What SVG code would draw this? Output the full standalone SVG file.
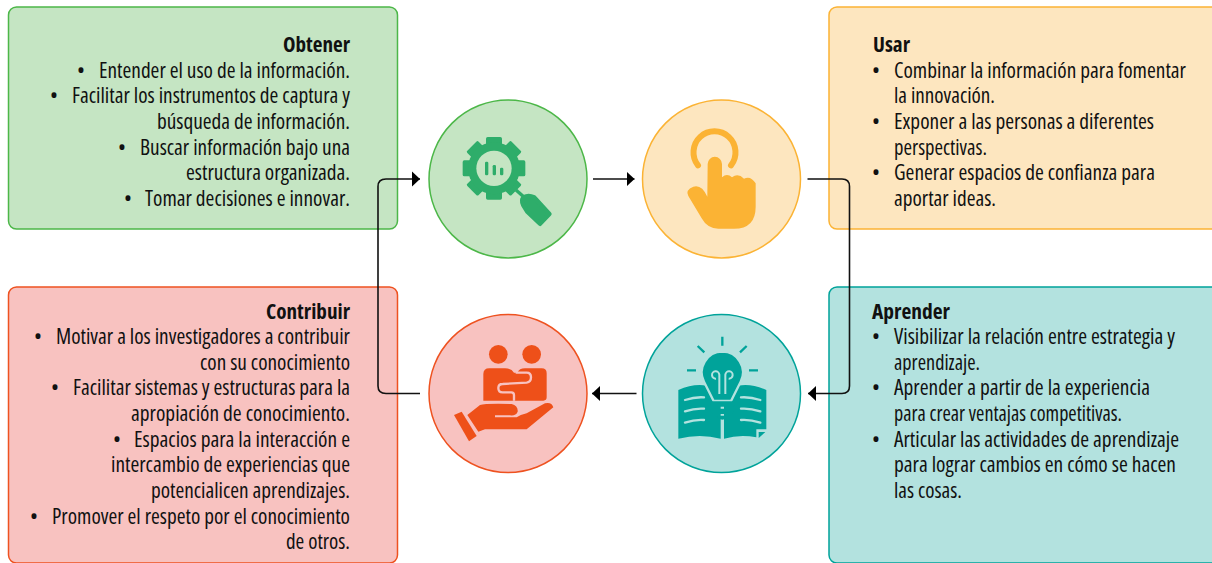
<svg xmlns="http://www.w3.org/2000/svg" width="1212" height="563" viewBox="0 0 1212 563">
<style>
text{font-family:"Open Sans","Noto Sans","Liberation Sans",sans-serif;font-size:21px;font-stretch:75%;fill:#111;}
.b{font-weight:700}
.box{stroke-width:1.5}
.g{fill:#C5E5C3;stroke:#4CB748}
.o{fill:#FDE6BF;stroke:#FBB334}
.r{fill:#F8C2C0;stroke:#EE5220}
.t{fill:#B3E2DF;stroke:#00A39A}
.conn{fill:none;stroke:#111;stroke-width:1.6}
</style>
<defs>
<marker id="arr" markerUnits="userSpaceOnUse" markerWidth="9" markerHeight="16" refX="8" refY="8" orient="auto"><path d="M0,0.5L8,8L0,15.5Z" fill="#000"/></marker>
</defs>
<rect width="1212" height="563" fill="#fff"/>
<g id="obtener">
<rect class="box g" x="8.5" y="7" width="389" height="222" rx="8"/>
<text class="b" x="283" y="52" textLength="67" lengthAdjust="spacingAndGlyphs">Obtener</text>
<text x="77" y="78">•</text><text x="99" y="78" textLength="251" lengthAdjust="spacingAndGlyphs">Entender el uso de la información.</text>
<text x="50" y="103">•</text><text x="72" y="103" textLength="278" lengthAdjust="spacingAndGlyphs">Facilitar los instrumentos de captura y</text>
<text x="157" y="129" textLength="193" lengthAdjust="spacingAndGlyphs">búsqueda de información.</text>
<text x="118" y="155">•</text><text x="140" y="155" textLength="210" lengthAdjust="spacingAndGlyphs">Buscar información bajo una</text>
<text x="186" y="180" textLength="164" lengthAdjust="spacingAndGlyphs">estructura organizada.</text>
<text x="124" y="206">•</text><text x="145" y="206" textLength="205" lengthAdjust="spacingAndGlyphs">Tomar decisiones e innovar.</text>
</g>
<g id="usar">
<rect class="box o" x="829" y="7" width="400" height="222" rx="8"/>
<text class="b" x="873" y="52" textLength="37" lengthAdjust="spacingAndGlyphs">Usar</text>
<text x="872" y="78">•</text><text x="894" y="78" textLength="292" lengthAdjust="spacingAndGlyphs">Combinar la información para fomentar</text>
<text x="894" y="103" textLength="101" lengthAdjust="spacingAndGlyphs">la innovación.</text>
<text x="872" y="129">•</text><text x="894" y="129" textLength="260" lengthAdjust="spacingAndGlyphs">Exponer a las personas a diferentes</text>
<text x="894" y="155" textLength="93" lengthAdjust="spacingAndGlyphs">perspectivas.</text>
<text x="872" y="180">•</text><text x="894" y="180" textLength="261" lengthAdjust="spacingAndGlyphs">Generar espacios de confianza para</text>
<text x="894" y="206" textLength="102" lengthAdjust="spacingAndGlyphs">aportar ideas.</text>
</g>
<g id="contribuir">
<rect class="box r" x="8.5" y="287" width="389" height="276" rx="8"/>
<text class="b" x="266" y="319" textLength="84" lengthAdjust="spacingAndGlyphs">Contribuir</text>
<text x="34" y="344">•</text><text x="56" y="344" textLength="294" lengthAdjust="spacingAndGlyphs">Motivar a los investigadores a contribuir</text>
<text x="200" y="370" textLength="150" lengthAdjust="spacingAndGlyphs">con su conocimiento</text>
<text x="51" y="395">•</text><text x="73" y="395" textLength="277" lengthAdjust="spacingAndGlyphs">Facilitar sistemas y estructuras para la</text>
<text x="131" y="421" textLength="219" lengthAdjust="spacingAndGlyphs">apropiación de conocimiento.</text>
<text x="113" y="447">•</text><text x="134" y="447" textLength="216" lengthAdjust="spacingAndGlyphs">Espacios para la interacción e</text>
<text x="111" y="472" textLength="239" lengthAdjust="spacingAndGlyphs">intercambio de experiencias que</text>
<text x="151" y="498" textLength="199" lengthAdjust="spacingAndGlyphs">potencialicen aprendizajes.</text>
<text x="30" y="524">•</text><text x="52" y="524" textLength="298" lengthAdjust="spacingAndGlyphs">Promover el respeto por el conocimiento</text>
<text x="286" y="549" textLength="64" lengthAdjust="spacingAndGlyphs">de otros.</text>
</g>
<g id="aprender">
<rect class="box t" x="829" y="287" width="400" height="276" rx="8"/>
<text class="b" x="872" y="319" textLength="78" lengthAdjust="spacingAndGlyphs">Aprender</text>
<text x="872" y="344">•</text><text x="894" y="344" textLength="281" lengthAdjust="spacingAndGlyphs">Visibilizar la relación entre estrategia y</text>
<text x="894" y="370" textLength="86" lengthAdjust="spacingAndGlyphs">aprendizaje.</text>
<text x="872" y="395">•</text><text x="894" y="395" textLength="256" lengthAdjust="spacingAndGlyphs">Aprender a partir de la experiencia</text>
<text x="894" y="421" textLength="228" lengthAdjust="spacingAndGlyphs">para crear ventajas competitivas.</text>
<text x="872" y="447">•</text><text x="894" y="447" textLength="285" lengthAdjust="spacingAndGlyphs">Articular las actividades de aprendizaje</text>
<text x="894" y="472" textLength="282" lengthAdjust="spacingAndGlyphs">para lograr cambios en cómo se hacen</text>
<text x="894" y="498" textLength="68" lengthAdjust="spacingAndGlyphs">las cosas.</text>
</g>
<g id="icon-obtener">
<circle class="g" cx="508" cy="179" r="79" stroke-width="1.5"/>
<g transform="translate(420 90) scale(.33333)" fill="#2EAD6A">
<g transform="translate(222 235)">
<rect x="-24" y="-94" width="48" height="188" rx="5"/>
<rect x="-24" y="-94" width="48" height="188" rx="5" transform="rotate(45)"/>
<rect x="-24" y="-94" width="48" height="188" rx="5" transform="rotate(90)"/>
<rect x="-24" y="-94" width="48" height="188" rx="5" transform="rotate(135)"/>
<circle r="78"/>
<circle r="53" fill="#C5E5C3"/>
</g>
<rect x="195" y="215" width="10" height="41" rx="4"/><rect x="218" y="225" width="10" height="31" rx="4"/><rect x="240" y="233" width="10" height="23" rx="4"/>
<path d="M288,300L322,330" stroke="#2EAD6A" stroke-width="10" fill="none"/>
<path d="M310,345Q303,330 312,322Q325,314 342,322L388,372L360,401L322,365Z" stroke="#2EAD6A" stroke-width="14" stroke-linejoin="round"/>
</g>
</g>
<g id="icon-usar">
<circle class="o" cx="721.5" cy="179" r="79" stroke-width="1.5"/>
<g transform="translate(590 90) scale(.33333)">
<path d="M324,226A63,63 0 1 1 423,226" fill="none" stroke="#FBB334" stroke-width="18" stroke-linecap="round"/>
<path fill="#FBB334" d="M353,222A21.500,21.500 0 0 1 396,222L396,262Q411,248 426,262Q444,248 462,266Q482,256 497,280L497,350Q497,416 432,416L385,416Q352,416 335,385L295,318Q285,300 310,290Q335,282 352,320Z"/>
</g>
</g>
<g id="icon-aprender">
<circle class="t" cx="721.5" cy="393.500" r="79" stroke-width="1.5"/>
<g transform="translate(590 300) scale(.33333)">
<path fill="#00A39A" d="M265,270Q310,250 350,257L392,310L392,416Q330,400 265,416Z"/>
<path fill="#00A39A" d="M529,270Q485,250 445,257L402,310L402,416Q450,402 499,412L499,388L529,388Z"/>
<path d="M506,396L526,396L506,414Z" fill="#00A39A"/>
<g fill="none" stroke="#B3E2DF" stroke-width="7" stroke-linecap="round">
<path d="M285,300Q315,290 342,292M285,334Q315,324 342,326M285,368Q315,358 342,360M511,300Q480,290 453,292M511,334Q480,324 453,326M511,368Q480,358 453,360"/>
</g>
<path fill="#00A39A" stroke="#B3E2DF" stroke-width="7" d="M397,155A62,62 0 0 1 452,245L423,303L371,303L342,245A62,62 0 0 1 397,155Z"/>
<g fill="none" stroke="#B3E2DF" stroke-width="6">
<path d="M388,282L388,224A11,11 0 1 0 378,236M406,282L406,224A11,11 0 1 1 416,236"/>
<path d="M397,355L397,416" stroke-width="7"/>
</g>
<path fill="#00A39A" d="M362,304H432Q437,312 430,320L366,320Q358,312 362,304Z"/>
<path fill="#00A39A" d="M364,326L430,326Q436,332 426,342L368,342Q358,332 364,326Z"/>
<path d="M378,347L418,347L408,356L397,359L386,356Z" fill="#00A39A"/>
<g fill="none" stroke="#00A39A" stroke-width="7">
<path d="M397,110L397,137M323,138L343,157M470,138L450,157M291,211L318,211M477,211L504,211"/>
</g>
</g>
</g>
<g id="icon-contribuir">
<circle class="r" cx="508" cy="393.500" r="79" stroke-width="1.5"/>
<g transform="translate(370 300) scale(.33333)" fill="#EE5019">
<circle cx="385" cy="163" r="28"/><circle cx="485" cy="163" r="28"/>
<path d="M340,302L340,222Q340,205 358,205L405,205Q425,205 432,218L442,218Q448,205 465,205L515,205Q530,205 530,220L530,292Q530,302 520,302Z"/>
<path d="M432,302L432,285Q432,277 424,277L398,277Q385,277 385,264Q385,252 398,252L470,248Q483,246 483,232Q483,218 470,218L437,218" fill="none" stroke="#F8C2C0" stroke-width="7"/>
<path d="M292,345L330,315Q345,310 425,312Q445,318 443,335Q438,348 420,346L375,346L375,352L440,352Q450,345 470,340L525,310Q545,305 550,322L470,388L345,388L325,395Z"/>
<path d="M252,345L275,335L320,408L297,424Z"/>
</g>
</g>
<g id="connectors">
<path class="conn" d="M593,179L634.500,179" marker-end="url(#arr)"/>
<path class="conn" d="M807.500,179L842,179Q849.500,179 849.500,186.500L849.500,386Q849.500,393.500 842,393.500L808,393.500" marker-end="url(#arr)"/>
<path class="conn" d="M636.500,393.500L592,393.500" marker-end="url(#arr)"/>
<path class="conn" d="M420,393.500L386,393.500Q378,393.500 378,386L378,186.500Q378,179 386,179L420,179" marker-end="url(#arr)"/>
</g>
</svg>
